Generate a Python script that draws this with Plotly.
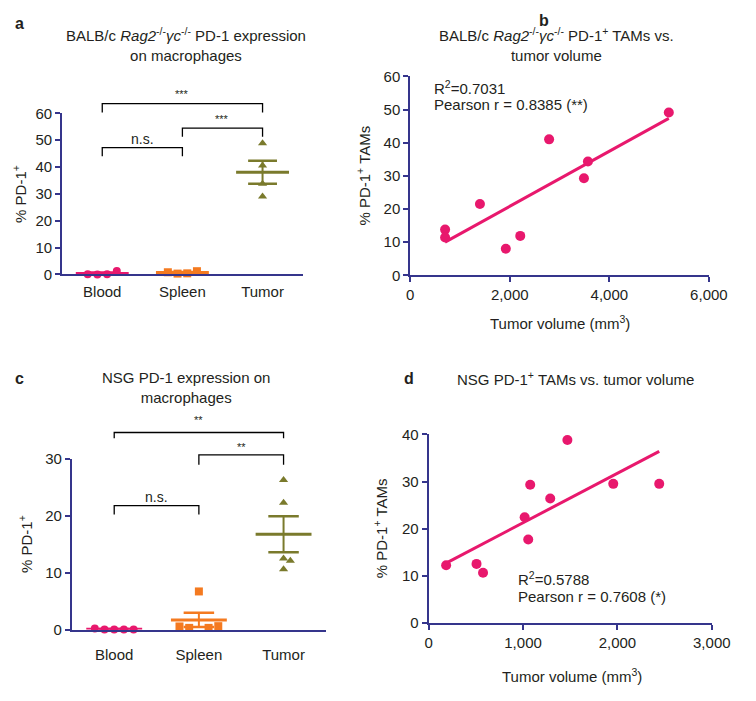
import numpy as np
import plotly.graph_objects as go

# ---------------- data ----------------
categories = ["Blood", "Spleen", "Tumor"]

# panel a: BALB/c Rag2-/- yc-/-  (% PD-1+ macrophages)
a_blood = [0.1, 0.0, 0.1, 1.3]
a_spleen = [0.8, 0.3, 0.4, 1.2]
a_tumor = [48.9, 40.6, 33.8, 29.0]

# panel c: NSG
c_blood = [0.2, 0.0, 0.0, 0.0, 0.0]
c_spleen = [0.55, 0.3, 6.7, 0.3, 0.6]
c_tumor = [26.3, 22.3, 12.5, 12.1, 10.6]

# panel b: BALB/c PD-1+ TAMs vs tumor volume
b_volume = [700, 700, 1400, 1920, 2210, 2790, 3490, 3570, 5195]
b_pd1 = [13.8, 11.4, 21.5, 8.0, 11.9, 41.0, 29.3, 34.3, 49.1]

# panel d: NSG PD-1+ TAMs vs tumor volume
d_volume = [185, 507, 576, 1017, 1055, 1076, 1288, 1470, 1956, 2443]
d_pd1 = [12.2, 12.5, 10.6, 22.4, 17.7, 29.3, 26.4, 38.8, 29.5, 29.5]

a_sig = ["***", "***", "n.s."]
c_sig = ["**", "**", "n.s."]
b_stats = ["R<sup>2</sup>=0.7031", "Pearson r = 0.8385 (**)"]
d_stats = ["R<sup>2</sup>=0.5788", "Pearson r = 0.7608 (*)"]

# ---------------- style ----------------
W, H = 756, 701
FONT = "Arial, 'Liberation Sans', Helvetica, sans-serif"
TXT = "#231f20"
NAVY = "#35358c"
PINK = "#e8186d"
ORANGE = "#f47a20"
OLIVE = "#7a7a2c"
group_colors = [PINK, ORANGE, OLIVE]
group_symbols = ["circle", "square", "triangle-up"]


def fx(p):
    return p / W


def fy(p):
    return 1 - p / H


# plot-area boxes in pixels (left, right, top, bottom)
BOX = {
    "a": (60, 308, 107, 272),
    "b": (419, 727, 69, 273),
    "c": (70, 332, 461, 636),
    "d": (438, 730, 436, 629),
}
RANGES = {
    "a": ([0.5, 3.5], [0, 60]),
    "b": ([0, 6000], [0, 60]),
    "c": ([0.5, 3.5], [0, 30]),
    "d": ([0, 3000], [0, 40]),
}
AXN = {"a": "", "b": "2", "c": "3", "d": "4"}

fig = go.Figure()
layout = dict(
    width=W, height=H, margin=dict(l=0, r=0, t=0, b=0),
    paper_bgcolor="white", plot_bgcolor="white", showlegend=False,
    font=dict(family=FONT, size=15, color=TXT),
)

for k, (l, r, t, b) in BOX.items():
    xr, yr = RANGES[k]
    n = AXN[k]
    cat = k in ("a", "c")
    xa = dict(
        domain=[fx(l), fx(r)], range=xr, anchor="y" + n,
        showline=True, linecolor=NAVY, linewidth=2, showgrid=False, zeroline=False,
        tickfont=dict(size=15, color=TXT), fixedrange=True,
    )
    if cat:
        xa.update(tickmode="array", tickvals=[1, 2, 3], ticktext=categories,
                  ticks="outside", ticklen=3 if k == "a" else 10,
                  tickcolor="rgba(0,0,0,0)")
    else:
        dt = 2000 if k == "b" else 1000
        xa.update(tickmode="linear", tick0=0, dtick=dt, tickformat=",d",
                  ticks="outside", ticklen=5, tickwidth=2, tickcolor=NAVY)
    ya = dict(
        domain=[fy(b), fy(t)], range=yr, anchor="x" + n,
        showline=True, linecolor=NAVY, linewidth=2, showgrid=False, zeroline=False,
        tickmode="linear", tick0=0, dtick=10, ticks="outside", ticklen=5,
        tickwidth=2, tickcolor=NAVY, tickfont=dict(size=15, color=TXT),
        fixedrange=True,
    )
    layout["xaxis" + n] = xa
    layout["yaxis" + n] = ya


def ppu(k):
    l, r, t, b = BOX[k]
    xr, yr = RANGES[k]
    return (r - l) / (xr[1] - xr[0]), (b - t) / (yr[1] - yr[0])


def even_offsets(vals, xppu, step_px=10):
    n = len(vals)
    return [(i - (n - 1) / 2) * step_px / xppu for i in range(n)]


def swarm_offsets(vals, xppu, yppu, d=7):
    placed, out = [], []
    cands = [0] + [s * m for m in range(1, 10) for s in (1, -1)]
    for v in vals:
        for m in cands:
            xp = m * d
            if all((xp - px) ** 2 + ((v - pv) * yppu) ** 2 >= d * d for px, pv in placed):
                break
        placed.append((xp, v))
        out.append(xp / xppu)
    return out


def dot_panel(k, groups):
    n = AXN[k]
    xppu, yppu = ppu(k)
    for gi, vals in enumerate(groups):
        center = gi + 1
        vals = np.array(vals, dtype=float)
        mean = vals.mean()
        sem = vals.std(ddof=1) / np.sqrt(len(vals))
        col = group_colors[gi]
        fig.add_trace(go.Scatter(x=[center - 0.33, center + 0.33], y=[mean, mean],
                                 mode="lines", line=dict(color=col, width=3),
                                 xaxis="x" + n, yaxis="y" + n, hoverinfo="skip"))
        for yv in (mean + sem, mean - sem):
            fig.add_trace(go.Scatter(x=[center - 0.18, center + 0.18], y=[yv, yv],
                                     mode="lines", line=dict(color=col, width=2.5),
                                     xaxis="x" + n, yaxis="y" + n, hoverinfo="skip"))
        fig.add_trace(go.Scatter(x=[center, center], y=[mean - sem, mean + sem],
                                 mode="lines", line=dict(color=col, width=2),
                                 xaxis="x" + n, yaxis="y" + n, hoverinfo="skip"))
        if gi < 2:
            offs = even_offsets(vals, xppu)
        else:
            offs = swarm_offsets(vals, xppu, yppu)
        fig.add_trace(go.Scatter(x=[center + o for o in offs], y=vals, mode="markers",
                                 marker=dict(symbol=group_symbols[gi], color=col, size=8,
                                             line=dict(width=0)),
                                 cliponaxis=False, xaxis="x" + n, yaxis="y" + n))


def scatter_panel(k, xs, ys):
    n = AXN[k]
    xs = np.array(xs, dtype=float)
    ys = np.array(ys, dtype=float)
    slope, icpt = np.polyfit(xs, ys, 1)
    xl = np.array([xs.min(), xs.max()])
    fig.add_trace(go.Scatter(x=xl, y=slope * xl + icpt, mode="lines",
                             line=dict(color=PINK, width=3),
                             xaxis="x" + n, yaxis="y" + n, hoverinfo="skip"))
    fig.add_trace(go.Scatter(x=xs, y=ys, mode="markers",
                             marker=dict(color=PINK, size=10, line=dict(width=0)),
                             cliponaxis=False, xaxis="x" + n, yaxis="y" + n))


dot_panel("a", [a_blood, a_spleen, a_tumor])
dot_panel("c", [c_blood, c_spleen, c_tumor])
scatter_panel("b", b_volume, b_pd1)
scatter_panel("d", d_volume, d_pd1)

# ---------------- brackets & texts ----------------
shapes = []
annotations = []


def bracket(k, x1, x2, top_px, leg_px, text, text_px, size):
    n = AXN[k]
    yt, yb = fy(top_px), fy(top_px + leg_px)
    shapes.append(dict(type="path", xref="x" + n, yref="paper",
                       path=f"M {x1},{yb} L {x1},{yt} L {x2},{yt} L {x2},{yb}",
                       line=dict(color="black", width=1.3)))
    annotations.append(dict(x=(x1 + x2) / 2, y=fy(text_px), xref="x" + n, yref="paper",
                            text=text, showarrow=False, xanchor="center", yanchor="middle",
                            font=dict(size=size, color=TXT)))


bracket("a", 1, 3, 97, 9, a_sig[0], 87, 11)
bracket("a", 2, 3, 122, 9, a_sig[1], 113, 11)
bracket("a", 1, 2, 142, 9, a_sig[2], 133, 14)
bracket("c", 1, 3, 434, 6, c_sig[0], 421, 11)
bracket("c", 2, 3, 457, 10, c_sig[1], 449, 11)
bracket("c", 1, 2, 509, 9, c_sig[2], 500, 14)


def text(xp, yp, s, size=15, anchor="center", angle=0):
    annotations.append(dict(x=fx(xp), y=fy(yp), xref="paper", yref="paper", text=s,
                            showarrow=False, xanchor=anchor, yanchor="middle",
                            textangle=angle, align=anchor if anchor != "center" else "center",
                            font=dict(size=size, color=TXT, family=FONT)))


# panel letters
for lab, xp, yp in [("a", 16, 15), ("b", 557, 12), ("c", 16, 379), ("d", 418, 379)]:
    text(xp, yp, f"<b>{lab}</b>", size=16)

# titles
text(188, 36, "BALB/c <i>Rag2</i><sup>-/-</sup><i>γc</i><sup>-/-</sup> PD-1 expression<br>on macrophages")
text(570, 36, "BALB/c <i>Rag2</i><sup>-/-</sup><i>γc</i><sup>-/-</sup> PD-1<sup>+</sup> TAMs vs.<br>tumor volume")
text(188, 388, "NSG PD-1 expression on<br>macrophages")
text(589, 379, "NSG PD-1<sup>+</sup> TAMs vs. tumor volume")

# axis titles
text(16, 190, "% PD-1<sup>+</sup>", angle=-90)
text(22, 548, "% PD-1<sup>+</sup>", angle=-90)
text(371, 171, "% PD-1<sup>+</sup> TAMs", angle=-90)
text(388, 532, "% PD-1<sup>+</sup> TAMs", angle=-90)
text(573, 321, "Tumor volume (mm<sup>3</sup>)")
text(586, 683, "Tumor volume (mm<sup>3</sup>)")

# stats
text(441, 80, b_stats[0], anchor="left")
text(441, 98, b_stats[1], anchor="left")
text(528, 584, d_stats[0], anchor="left")
text(528, 602, d_stats[1], anchor="left")

layout["shapes"] = shapes
layout["annotations"] = annotations
fig.update_layout(**layout)
fig.write_html("out.html", config={"displayModeBar": False},
               post_script="document.body.style.margin='0';document.body.style.overflow='hidden';")
